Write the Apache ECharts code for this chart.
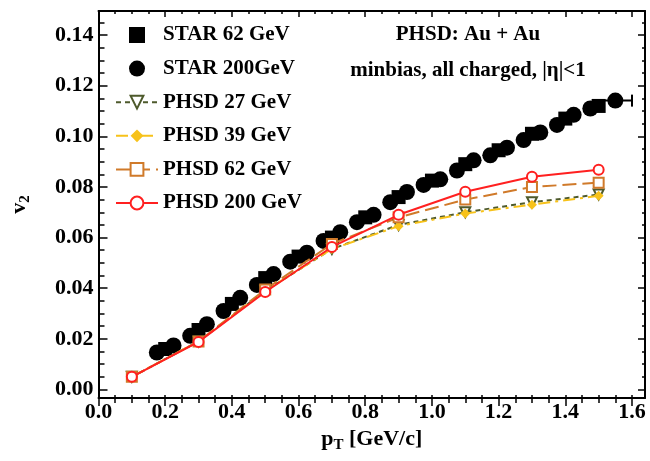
<!DOCTYPE html>
<html><head><meta charset="utf-8">
<script src="https://cdn.jsdelivr.net/npm/echarts@6/dist/echarts.min.js"></script>
<style>html,body{margin:0;padding:0;background:#fff}#c{width:650px;height:461px}</style>
</head><body><div id="c"></div>
<script>
// ---- data ----
const phsdPt = [0.1, 0.3, 0.5, 0.7, 0.9, 1.1, 1.3, 1.5];
const phsd27 = [0.005, 0.019, 0.039, 0.0555, 0.065, 0.070, 0.0740, 0.0770];
const phsd39 = [0.005, 0.019, 0.039, 0.0555, 0.0645, 0.0695, 0.0730, 0.0765];
const phsd62 = [0.005, 0.019, 0.0395, 0.0575, 0.0680, 0.0750, 0.0800, 0.0817];
const phsd200 = [0.005, 0.0188, 0.0385, 0.0563, 0.0690, 0.0781, 0.0840, 0.0868];
const star200Pt = [0.175,0.225,0.275,0.325,0.375,0.425,0.475,0.525,0.575,0.625,0.675,0.725,0.775,0.825,0.875,0.925,0.975,1.025,1.075,1.125,1.175,1.225,1.275,1.325,1.375,1.425,1.475,1.55];
const star200V = [0.0146,0.0174,0.0212,0.0258,0.0310,0.0362,0.0413,0.0456,0.0505,0.0540,0.0587,0.0621,0.0661,0.0690,0.0740,0.0780,0.0808,0.0830,0.0865,0.0905,0.0925,0.0955,0.0985,0.1015,0.1045,0.1085,0.1110,0.1141];
const star62Pt = [0.2,0.3,0.4,0.5,0.6,0.7,0.8,0.9,1.0,1.1,1.2,1.3,1.4,1.5];
const star62V = [0.0160,0.0235,0.0338,0.0440,0.0525,0.0600,0.0680,0.0760,0.0825,0.0890,0.0945,0.1010,0.1070,0.1120];
// horizontal error bar on last STAR 200 point: [xLow, xHigh, y]
const starErrX = [[1.50, 1.60, 0.1141]];
const xMajor = [0,0.2,0.4,0.6,0.8,1.0,1.2,1.4,1.6];
const yMajor = [0,0.02,0.04,0.06,0.08,0.10,0.12,0.14];
const xMinor = Array.from({length:33},(_,i)=>Math.round(i*5)/100);
const yMinor = Array.from({length:30},(_,i)=>Math.round(i*5)/1000);

const FONT = 'Liberation Serif';
const XMIN=0, XMAX=1.639, YMIN=-0.00336, YMAX=0.1495;
const zip=(a,b)=>a.map((x,i)=>[x,b[i]]);
const SQUARE='path://M0,0L10,0L10,10L0,10Z';

function xa(o){return Object.assign({type:'value',min:XMIN,max:XMAX,position:'bottom',
  axisLine:{show:false,onZero:false,lineStyle:{color:'#000',width:2}},
  axisTick:{show:true,inside:false,length:5,lineStyle:{color:'#000',width:1.5}},
  axisLabel:{show:false},splitLine:{show:false}},o);}
function ya(o){return Object.assign({type:'value',min:YMIN,max:YMAX,position:'left',
  axisLine:{show:false,onZero:false,lineStyle:{color:'#000',width:2}},
  axisTick:{show:true,inside:true,length:5,lineStyle:{color:'#000',width:1.5}},
  axisLabel:{show:false},splitLine:{show:false}},o);}

const chart = echarts.init(document.getElementById('c'),null,{renderer:'canvas'});
chart.setOption({
  animation:false,
  backgroundColor:'#fff',
  grid:{left:96,right:5,top:11,bottom:63,containLabel:false},
  xAxis:[
    xa({axisLine:{show:true,onZero:false,lineStyle:{color:'#000',width:2}},
        axisTick:{show:true,inside:false,length:8,customValues:xMajor,lineStyle:{color:'#000',width:1.5}},
        axisLabel:{show:true,customValues:xMajor,formatter:v=>v.toFixed(1),margin:3,
          fontFamily:FONT,fontWeight:'bold',fontSize:22,color:'#000'},
        name:'p{s|T} [GeV/c]',nameLocation:'middle',nameGap:26,
        nameTextStyle:{fontFamily:FONT,fontWeight:'bold',fontSize:22,color:'#000',
          rich:{s:{fontFamily:FONT,fontWeight:'bold',fontSize:15,verticalAlign:'bottom',padding:[12,0,0,0]}}}}),
    xa({axisTick:{show:true,inside:false,length:5,customValues:xMinor,lineStyle:{color:'#000',width:1.5}}}),
    xa({axisTick:{show:true,inside:true,length:3,customValues:xMinor,lineStyle:{color:'#000',width:1.5}}}),
    xa({position:'top',axisLine:{show:true,onZero:false,lineStyle:{color:'#000',width:2}},
        axisTick:{show:true,inside:true,length:6,customValues:xMajor,lineStyle:{color:'#000',width:1.5}}}),
    xa({position:'top',axisTick:{show:true,inside:true,length:3,customValues:xMinor,lineStyle:{color:'#000',width:1.5}}})
  ],
  yAxis:[
    ya({axisLine:{show:true,onZero:false,lineStyle:{color:'#000',width:2}},
        axisTick:{show:true,inside:true,length:9,customValues:yMajor,lineStyle:{color:'#000',width:1.5}},
        axisLabel:{show:true,customValues:yMajor,formatter:v=>v.toFixed(2),margin:5,
          fontFamily:FONT,fontWeight:'bold',fontSize:22,color:'#000'},
        name:'v{s|2}',nameLocation:'middle',nameGap:66,
        nameTextStyle:{fontFamily:FONT,fontWeight:'bold',fontSize:22,color:'#000',
          rich:{s:{fontFamily:FONT,fontWeight:'bold',fontSize:15,padding:[12,0,0,0]}}}}),
    ya({axisTick:{show:true,inside:true,length:6,customValues:yMinor,lineStyle:{color:'#000',width:1.5}}}),
    ya({position:'right',axisLine:{show:true,onZero:false,lineStyle:{color:'#000',width:2}},
        axisTick:{show:true,inside:true,length:7,customValues:yMajor,lineStyle:{color:'#000',width:1.5}}}),
    ya({position:'right',axisTick:{show:true,inside:true,length:3,customValues:yMinor,lineStyle:{color:'#000',width:1.5}}})
  ],
  legend:{
    orient:'vertical',left:115,top:24,padding:0,itemGap:11.6,itemWidth:42,itemHeight:16,
    symbolKeepAspect:true,
    textStyle:{fontFamily:FONT,fontWeight:'bold',fontSize:21,lineHeight:22,color:'#000'},
    data:[{name:'STAR 62 GeV',icon:SQUARE},'STAR 200GeV','PHSD 27 GeV','PHSD 39 GeV','PHSD 62 GeV','PHSD 200 GeV']
  },
  graphic:[
    {type:'text',style:{text:'PHSD: Au + Au',x:468,y:35,align:'center',verticalAlign:'middle',
      font:'bold 21px "Liberation Serif"',fill:'#000'}},
    {type:'text',style:{text:'minbias, all charged, |η|<1',x:468,y:71,align:'center',verticalAlign:'middle',
      font:'bold 21px "Liberation Serif"',fill:'#000'}}
  ],
  series:[
    {name:'STAR 62 GeV',type:'scatter',symbol:SQUARE,symbolSize:14,symbolKeepAspect:true,
      itemStyle:{color:'#000',opacity:1},data:zip(star62Pt,star62V),z:2},
    {name:'STAR 200GeV',type:'scatter',symbol:'circle',symbolSize:16,
      itemStyle:{color:'#000',opacity:1},data:zip(star200Pt,star200V),z:2},
    {type:'custom',silent:true,z:2,data:starErrX,
      renderItem:(p,api)=>{const a=api.coord([api.value(0),api.value(2)]),b=api.coord([api.value(1),api.value(2)]);
        return {type:'group',children:[
          {type:'line',shape:{x1:a[0],y1:a[1],x2:b[0],y2:b[1]},style:{stroke:'#000',lineWidth:2}},
          {type:'line',shape:{x1:b[0],y1:b[1]-6,x2:b[0],y2:b[1]+6},style:{stroke:'#000',lineWidth:2}}]};}},
    {name:'PHSD 27 GeV',type:'line',symbol:'emptyTriangle',symbolRotate:180,symbolSize:10,
      itemStyle:{color:'#4e5a2c'},lineStyle:{color:'#4e5a2c',width:2,type:[5,4]},data:zip(phsdPt,phsd27),z:3},
    {name:'PHSD 39 GeV',type:'line',symbol:'diamond',symbolSize:10,
      itemStyle:{color:'#f7c21a'},lineStyle:{color:'#f7c21a',width:2,type:[12,5,3,5]},data:zip(phsdPt,phsd39),z:3},
    {name:'PHSD 62 GeV',type:'line',symbol:'emptyRect',symbolSize:10,
      itemStyle:{color:'#d07a2a'},lineStyle:{color:'#d07a2a',width:2,type:[14,6]},data:zip(phsdPt,phsd62),z:3},
    {name:'PHSD 200 GeV',type:'line',symbol:'emptyCircle',symbolSize:10,
      itemStyle:{color:'#ff2020'},lineStyle:{color:'#ff2020',width:2},data:zip(phsdPt,phsd200),z:4}
  ]
});
</script></body></html>
